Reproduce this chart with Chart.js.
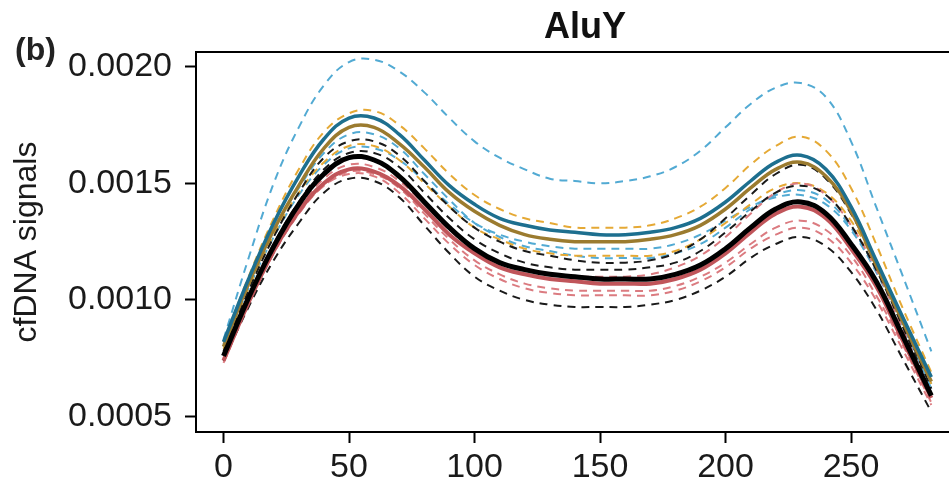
<!DOCTYPE html>
<html>
<head>
<meta charset="utf-8">
<script src="https://cdn.jsdelivr.net/npm/chart.js"></script>
<style>
  html, body { margin: 0; padding: 0; background: #fff; }
  #wrap { position: relative; width: 949px; height: 485px; overflow: hidden; }
  #title { position: absolute; left: 385px; width: 400px; top: 8px; text-align: center;
           font: bold 36px "Liberation Sans", Arial, sans-serif; line-height: 36px; color: #111; }
  #panel { position: absolute; left: 15px; top: 33px;
           font: bold 32px "Liberation Sans", Arial, sans-serif; line-height: 32px; color: #222; }
  canvas { position: absolute; left: 0; top: 0; }
</style>
</head>
<body>
<div id="wrap">
  <canvas id="c" width="949" height="485"></canvas>
  <div id="title">AluY</div>
  <div id="panel">(b)</div>
</div>
<script>
// ---- data ----
const positions = [0,10,20,30,40,50,60,70,80,90,100,110,120,130,140,150,160,170,180,190,200,210,220,230,240,250,260,270,282];
const xTicks = [0, 50, 100, 150, 200, 250];
const xTickLabels = ['0', '50', '100', '150', '200', '250'];
const yTicks = [0.0005, 0.0010, 0.0015, 0.0020];
const yTickLabels = ['0.0005', '0.0010', '0.0015', '0.0020'];

// solid (group means)
const blackMean = [.00076,.00101,.00123,.00141,.00154,.00161,.00160,.00153,.00142,.00131,.00122,.00116,.00113,.00111,.00110,.00109,.00109,.00109,.00111,.00115,.00122,.00131,.00139,.00142,.00137,.00124,.00108,.00086,.00059];
const redMean   = [.00074,.00099,.00121,.00138,.00150,.00156,.00155,.00149,.00139,.00128,.00120,.00114,.00111,.00109,.00108,.00107,.00107,.00107,.00109,.00113,.00120,.00129,.00137,.00140,.00135,.00122,.00106,.00084,.00058];
const tealMean  = [.00082,.00109,.00133,.00153,.00169,.00178,.00178,.00171,.00160,.00149,.00141,.00135,.00132,.00130,.00129,.00128,.00128,.00129,.00131,.00135,.00142,.00151,.00159,.00162,.00156,.00140,.00117,.00094,.00067];
const brownMean = [.00080,.00107,.00130,.00149,.00165,.00174,.00174,.00167,.00157,.00146,.00138,.00132,.00128,.00126,.00125,.00125,.00125,.00126,.00128,.00132,.00139,.00148,.00156,.00159,.00153,.00138,.00115,.00092,.00065];

// dashed (individual samples)
const blue1 = [.00083,.00118,.00150,.00174,.00192,.00202,.00203,.00198,.00189,.00178,.00168,.00161,.00156,.00152,.00151,.00150,.00151,.00153,.00157,.00164,.00174,.00184,.00191,.00193,.00187,.00168,.00140,.00112,.00078];
const blue2 = [.00081,.00107,.00130,.00148,.00163,.00171,.00171,.00165,.00154,.00143,.00133,.00127,.00123,.00121,.00119,.00118,.00118,.00118,.00120,.00124,.00131,.00139,.00145,.00147,.00143,.00131,.00113,.00091,.00064];
const blue3 = [.00080,.00105,.00127,.00145,.00158,.00165,.00165,.00160,.00151,.00141,.00133,.00128,.00125,.00123,.00122,.00122,.00122,.00122,.00124,.00128,.00134,.00140,.00144,.00145,.00141,.00130,.00112,.00090,.00062];
const gold1 = [.00082,.00110,.00135,.00156,.00172,.00180,.00181,.00175,.00165,.00154,.00145,.00139,.00135,.00133,.00131,.00131,.00131,.00132,.00135,.00140,.00148,.00158,.00166,.00170,.00164,.00148,.00124,.00098,.00069];
const gold2 = [.00079,.00105,.00128,.00146,.00159,.00166,.00166,.00160,.00150,.00140,.00131,.00126,.00122,.00120,.00119,.00119,.00119,.00119,.00121,.00126,.00133,.00141,.00148,.00150,.00146,.00134,.00115,.00093,.00064];
const black1 = [.00078,.00104,.00127,.00146,.00161,.00168,.00168,.00162,.00151,.00140,.00131,.00125,.00121,.00119,.00117,.00116,.00116,.00117,.00120,.00126,.00135,.00145,.00154,.00158,.00152,.00137,.00116,.00092,.00062];
const black2 = [.00074,.00097,.00117,.00133,.00146,.00152,.00151,.00144,.00132,.00120,.00110,.00104,.00100,.00098,.00097,.00097,.00097,.00098,.00100,.00104,.00110,.00118,.00124,.00127,.00123,.00112,.00096,.00076,.00052];
const black3 = [.00077,.00102,.00124,.00142,.00156,.00163,.00163,.00157,.00146,.00135,.00126,.00120,.00116,.00114,.00113,.00113,.00113,.00114,.00116,.00121,.00129,.00138,.00146,.00149,.00145,.00132,.00113,.00090,.00060];
const red1 = [.00075,.00100,.00122,.00139,.00152,.00158,.00157,.00151,.00141,.00130,.00122,.00116,.00113,.00111,.00110,.00110,.00110,.00111,.00114,.00119,.00127,.00137,.00146,.00150,.00145,.00132,.00113,.00089,.00060];
const red2 = [.00073,.00098,.00120,.00137,.00149,.00155,.00154,.00148,.00137,.00126,.00117,.00111,.00107,.00105,.00104,.00104,.00104,.00104,.00106,.00110,.00116,.00124,.00131,.00134,.00130,.00119,.00102,.00082,.00056];
const red3 = [.00074,.00099,.00120,.00137,.00149,.00154,.00153,.00146,.00135,.00124,.00115,.00109,.00105,.00103,.00102,.00102,.00102,.00102,.00104,.00108,.00114,.00122,.00128,.00131,.00127,.00116,.00100,.00080,.00055];

// ---- build ----
const pts = arr => arr.map((v, i) => ({ x: positions[i], y: v }));
const solid = (arr, color, w) => ({ data: pts(arr), borderColor: color, borderWidth: w, pointRadius: 0, fill: false, tension: 0.4 });
const dashed = (arr, color) => ({ data: pts(arr), borderColor: color, borderWidth: 2, borderDash: [8, 6], pointRadius: 0, fill: false, tension: 0.4 });

const BLUE = '#52AAD3', TEAL = '#1D6F8F', GOLD = '#E5A935', BROWN = '#9B7B2F',
      BLK = '#1a1a1a', RED = '#C0555A', PINK = '#DB7B80';

const datasets = [
  solid(blackMean, '#000000', 5),
  solid(redMean, RED, 4),
  solid(tealMean, TEAL, 3.5),
  solid(brownMean, BROWN, 3.5),
  dashed(black1, BLK), dashed(black2, BLK), dashed(black3, BLK),
  dashed(red1, PINK), dashed(red2, PINK), dashed(red3, PINK),
  dashed(gold1, GOLD), dashed(gold2, GOLD),
  dashed(blue1, BLUE), dashed(blue2, BLUE), dashed(blue3, BLUE)
];

const FONT = '"Liberation Sans", Arial, sans-serif';

const topBorder = {
  id: 'topBorder',
  afterDraw(chart) {
    const { ctx, chartArea } = chart;
    ctx.save();
    ctx.strokeStyle = '#000';
    ctx.lineWidth = 2;
    ctx.beginPath();
    ctx.moveTo(chartArea.left - 1, chartArea.top);
    ctx.lineTo(chartArea.right, chartArea.top);
    ctx.stroke();
    ctx.restore();
  }
};

new Chart(document.getElementById('c'), {
  type: 'line',
  data: { datasets },
  plugins: [topBorder],
  options: {
    responsive: false,
    devicePixelRatio: 1,
    animation: false,
    layout: { padding: { top: 52, left: 0, right: 0, bottom: 0 } },
    plugins: { legend: { display: false }, tooltip: { enabled: false }, title: { display: false } },
    scales: {
      x: {
        type: 'linear',
        min: -10.96, max: 289.04,
        afterBuildTicks: s => { s.ticks = xTicks.map(v => ({ value: v })); },
        afterFit: s => { s.height = 53; },
        border: { color: '#000', width: 2 },
        grid: { drawOnChartArea: false, tickLength: 11, tickWidth: 2, tickColor: '#000' },
        ticks: { font: { family: FONT, size: 34 }, color: '#1a1a1a', padding: 4, maxRotation: 0, autoSkip: false,
                 callback: (v, i) => xTickLabels[i] }
      },
      y: {
        min: 0.000434, max: 0.002063,
        afterBuildTicks: s => { s.ticks = yTicks.map(v => ({ value: v })); },
        afterFit: s => { s.width = 196; },
        border: { color: '#000', width: 2 },
        grid: { drawOnChartArea: false, tickLength: 11, tickWidth: 2, tickColor: '#000' },
        ticks: { font: { family: FONT, size: 34 }, color: '#1a1a1a', padding: 13, autoSkip: false,
                 callback: (v, i) => yTickLabels[i] },
        title: { display: true, text: 'cfDNA signals', font: { family: FONT, size: 32 }, color: '#1a1a1a', padding: { top: 8, bottom: 0 } }
      }
    }
  }
});
</script>
</body>
</html>
